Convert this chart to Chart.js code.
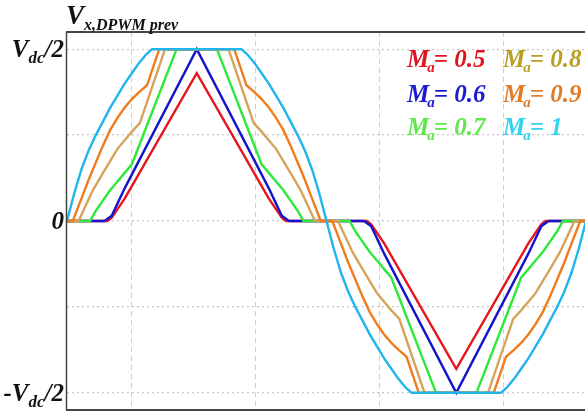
<!DOCTYPE html>
<html>
<head>
<meta charset="utf-8">
<script src="https://cdn.jsdelivr.net/npm/chart.js@4.4.1/dist/chart.umd.min.js"></script>
<style>
html,body{margin:0;padding:0;background:#fff;}
#wrap{width:585px;height:414px;position:relative;}
</style>
</head>
<body>
<div id="wrap"><canvas id="c" width="585" height="414"></canvas></div>
<script>
// ---- data (angle in degrees, value in units of Vdc/2) ----
const maRed = [[0,0],[28,0],[31,0.02],[40,0.13],[90,0.86],[140,0.13],[149,0.02],[152,0],[208,0],[211,-0.02],[220,-0.13],[270,-0.86],[320,-0.13],[329,-0.02],[332,0],[360,0]];
const maBlue = [[0,0],[26,0],[31,0.03],[40,0.19],[90,1],[140,0.19],[149,0.03],[154,0],[206,0],[211,-0.03],[220,-0.19],[270,-1],[320,-0.19],[329,-0.03],[334,0],[360,0]];
const maGreen = [[0,0],[16,0],[20,0.06],[25,0.12],[30,0.18],[35,0.23],[40,0.28],[45,0.33],[76,1],[104,1],[135,0.33],[140,0.28],[145,0.23],[150,0.18],[155,0.12],[160,0.06],[164,0],[196,0],[200,-0.06],[205,-0.12],[210,-0.18],[215,-0.23],[220,-0.28],[225,-0.33],[256,-1],[284,-1],[315,-0.33],[320,-0.28],[325,-0.23],[330,-0.18],[335,-0.12],[340,-0.06],[344,0],[360,0]];
const maTan = [[0,0],[8,0],[13,0.09],[18,0.18],[25,0.28],[30,0.35],[35,0.42],[40,0.47],[45,0.52],[50.5,0.57],[68,1],[112,1],[129.5,0.57],[135,0.52],[140,0.47],[145,0.42],[150,0.35],[155,0.28],[162,0.18],[167,0.09],[172,0],[188,0],[193,-0.09],[198,-0.18],[205,-0.28],[210,-0.35],[215,-0.42],[220,-0.47],[225,-0.52],[230.5,-0.57],[248,-1],[292,-1],[309.5,-0.57],[315,-0.52],[320,-0.47],[325,-0.42],[330,-0.35],[335,-0.28],[342,-0.18],[347,-0.09],[352,0],[360,0]];
const maOrange = [[0,0],[4,0],[10,0.13],[15,0.24],[20,0.34],[25,0.44],[30,0.53],[35,0.6],[40,0.66],[45,0.71],[50,0.75],[55.5,0.79],[64,1],[116,1],[124.5,0.79],[130,0.75],[135,0.71],[140,0.66],[145,0.6],[150,0.53],[155,0.44],[160,0.34],[165,0.24],[170,0.13],[176,0],[184,0],[190,-0.13],[195,-0.24],[200,-0.34],[205,-0.44],[210,-0.53],[215,-0.6],[220,-0.66],[225,-0.71],[230,-0.75],[235.5,-0.79],[244,-1],[296,-1],[304.5,-0.79],[310,-0.75],[315,-0.71],[320,-0.66],[325,-0.6],[330,-0.53],[335,-0.44],[340,-0.34],[345,-0.24],[350,-0.13],[356,0],[360,0]];
const maCyan = [[0,0],[5,0.16],[10,0.3],[15,0.41],[20,0.5],[25,0.58],[30,0.66],[35,0.73],[40,0.8],[45,0.86],[50,0.92],[55,0.97],[59,1],[121,1],[125,0.97],[130,0.92],[135,0.86],[140,0.8],[145,0.73],[150,0.66],[155,0.58],[160,0.5],[165,0.41],[170,0.3],[175,0.16],[180,0],[185,-0.16],[190,-0.3],[195,-0.41],[200,-0.5],[205,-0.58],[210,-0.66],[215,-0.73],[220,-0.8],[225,-0.86],[230,-0.92],[235,-0.97],[239,-1],[301,-1],[305,-0.97],[310,-0.92],[315,-0.86],[320,-0.8],[325,-0.73],[330,-0.66],[335,-0.58],[340,-0.5],[345,-0.41],[350,-0.3],[355,-0.16],[360,0]];

const seriesNames = ['0.5','0.6','0.7','0.8','0.9','1'];
const seriesData = [maRed, maBlue, maGreen, maTan, maOrange, maCyan];
const lineColors = ['#e8141e','#1414cc','#2ee83a','#d6a35a','#f07c1e','#22b4ec'];
const textColors = ['#e0141e','#1a1ad0','#5ee84a','#b8a024','#e07c28','#30d4ee'];

const xGrid = [45,131,217,303];
const yGrid = [-1,-0.5,0,0.5,1];
const yLabels = [{v:1,main:'V',sub:'dc',rest:'/2'},{v:0,main:'0',sub:'',rest:''},{v:-1,main:'-V',sub:'dc',rest:'/2'}];
const titleMain = 'V';
const titleSub = 'x,DPWM prev';

const SERIF = '"Liberation Serif","Times New Roman",serif';

const datasets = seriesData.map((d,i)=>({
  label:'M_a= '+seriesNames[i],
  data:d.map(p=>({x:p[0],y:p[1]})),
  borderColor:lineColors[i],
  backgroundColor:lineColors[i],
  borderWidth:2.4,
  pointRadius:0,
  tension:0,
  fill:false,
  order:6-i
}));

function subText(ctx,x,y,main,sub,rest,size,subSize,color,align){
  ctx.save();
  ctx.fillStyle=color;
  ctx.textBaseline='alphabetic';
  const f1='italic bold '+size+'px '+SERIF;
  const f2='italic bold '+subSize+'px '+SERIF;
  ctx.font=f1; const w1=ctx.measureText(main).width;
  ctx.font=f2; const w2=sub?ctx.measureText(sub).width:0;
  ctx.font=f1; const w3=rest?ctx.measureText(rest).width:0;
  let sx = align==='right' ? x-(w1+w2+w3) : x;
  ctx.font=f1; ctx.fillText(main,sx,y); sx+=w1;
  if(sub){ctx.font=f2; ctx.fillText(sub,sx,y+subSize*0.35); sx+=w2;}
  if(rest){ctx.font=f1; ctx.fillText(rest,sx,y);}
  ctx.restore();
}

const deco = {
  id:'deco',
  afterDraw(chart){
    const ctx=chart.ctx, a=chart.chartArea, ys=chart.scales.y;
    ctx.save();
    // frame
    ctx.strokeStyle='#444';
    ctx.lineWidth=1.5;
    ctx.beginPath(); ctx.moveTo(a.left-0.5,a.top); ctx.lineTo(a.left-0.5,a.bottom); ctx.stroke();
    ctx.lineWidth=2;
    ctx.beginPath(); ctx.moveTo(a.left-1,a.top); ctx.lineTo(585,a.top); ctx.stroke();
    ctx.beginPath(); ctx.moveTo(a.left-1,a.bottom); ctx.lineTo(585,a.bottom); ctx.stroke();
    ctx.restore();
    // title
    subText(ctx,66,24,titleMain,titleSub,'',27,16,'#111','left');
    // y labels
    yLabels.forEach(l=>{
      const py=ys.getPixelForValue(l.v);
      subText(ctx,64,py+8,l.main,l.sub,l.rest,25,17,'#111','right');
    });
    // legend
    const cols=[407,503], rows=[67,102,135];
    seriesNames.forEach((n,i)=>{
      const cx=cols[Math.floor(i/3)], cy=rows[i%3];
      ctx.save();
      ctx.fillStyle=textColors[i];
      ctx.font='italic bold 25px '+SERIF;
      ctx.fillText('M',cx,cy);
      const wm=ctx.measureText('M').width;
      ctx.font='italic bold 15px '+SERIF;
      ctx.fillText('a',cx+wm-2,cy+5);
      const wa=ctx.measureText('a').width;
      ctx.font='italic bold 25px '+SERIF;
      ctx.fillText('= '+n,cx+wm+wa-3,cy);
      ctx.restore();
    });
  }
};

new Chart(document.getElementById('c'),{
  type:'line',
  data:{datasets},
  options:{
    responsive:false,
    animation:false,
    devicePixelRatio:1,
    layout:{padding:{left:67,top:32,right:0,bottom:4}},
    plugins:{legend:{display:false},tooltip:{enabled:false}},
    scales:{
      x:{
        type:'linear',min:0,max:359.3,
        afterBuildTicks:s=>{s.ticks=xGrid.map(v=>({value:v}));},
        afterFit:s=>{s.height=0;},
        ticks:{display:false},
        grid:{color:'#cfcfcf',lineWidth:1,drawTicks:false},
        border:{display:false,dash:[5,4]}
      },
      y:{
        type:'linear',min:-1.1,max:1.1,
        afterBuildTicks:s=>{s.ticks=yGrid.map(v=>({value:v}));},
        afterFit:s=>{s.width=0;},
        ticks:{display:false},
        grid:{color:'#c8c8c8',lineWidth:1.2,drawTicks:false},
        border:{display:false,dash:[2,3]}
      }
    }
  },
  plugins:[deco]
});
</script>
</body>
</html>
